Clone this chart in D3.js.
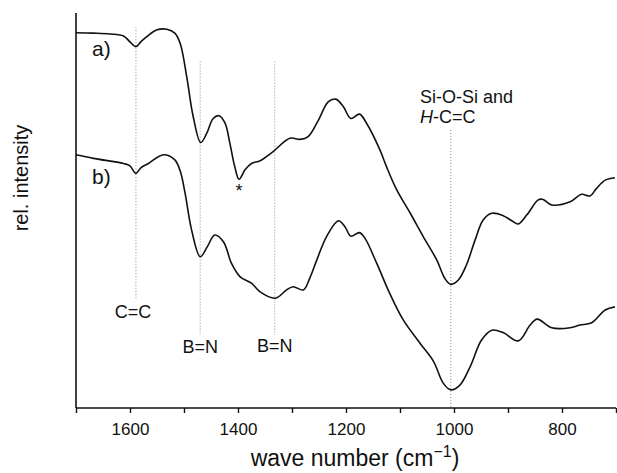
<!DOCTYPE html>
<html>
<head>
<meta charset="utf-8">
<script src="https://cdn.jsdelivr.net/npm/d3@7/dist/d3.min.js"></script>
<style>
  body { margin: 0; background: #fff; }
  svg { display: block; font-family: "Liberation Sans", Arial, Helvetica, sans-serif; }
  .spec { fill: none; stroke: #111; stroke-width: 1.6; }
  .mark { stroke: #8a8a8a; stroke-width: 1; stroke-dasharray: 1 2; }
  .axis-line { stroke: #111; stroke-width: 1.6; }
</style>
</head>
<body>
<svg id="chart" width="617" height="473"></svg>
<script>
// spectrum a)
const waveA = [1700,1668,1637,1612,1600,1589,1580,1569,1551,1532,1517,1507,1495,1483,1469,1458,1446,1435,1424,1415,1406,1398,1387,1375,1359,1335,1304,1285,1270,1251,1233,1219,1205,1191,1175,1162,1137,1125,1106,1081,1057,1032,1017,1006,992,977,961,946,930,909,893,881,865,844,835,819,785,764,748,736,720,702];
const relA  = [0.950,0.949,0.947,0.942,0.927,0.915,0.927,0.940,0.957,0.959,0.949,0.923,0.839,0.738,0.672,0.695,0.733,0.740,0.721,0.670,0.611,0.579,0.603,0.619,0.626,0.649,0.683,0.680,0.687,0.729,0.775,0.782,0.763,0.733,0.744,0.721,0.653,0.611,0.552,0.493,0.434,0.375,0.328,0.313,0.324,0.362,0.425,0.476,0.493,0.487,0.474,0.466,0.489,0.527,0.528,0.514,0.522,0.541,0.537,0.556,0.577,0.583];

// spectrum b)
const waveB = [1700,1668,1612,1600,1589,1580,1566,1538,1517,1507,1498,1486,1470,1457,1443,1427,1412,1396,1375,1359,1331,1310,1298,1279,1267,1254,1236,1214,1202,1191,1175,1165,1143,1119,1094,1063,1038,1020,1006,989,970,949,930,909,881,859,846,819,785,767,745,720,702];
const relB  = [0.641,0.632,0.619,0.613,0.594,0.608,0.619,0.641,0.628,0.600,0.544,0.451,0.383,0.408,0.438,0.421,0.366,0.332,0.316,0.294,0.278,0.299,0.307,0.299,0.329,0.375,0.434,0.474,0.459,0.435,0.444,0.430,0.366,0.290,0.223,0.164,0.118,0.063,0.046,0.058,0.105,0.172,0.197,0.191,0.170,0.210,0.225,0.203,0.203,0.210,0.216,0.248,0.256];

// band assignments
const bandWave  = [1589, 1470, 1332, 1006];
const bandLabel = ['C=C', 'B=N', 'B=N', null];

const tickWaves   = d3.range(1700, 699, -100);
const tickLabeled = [1600, 1400, 1200, 1000, 800];

// ── SCALES ───────────────────────────────────────────────
const svg = d3.select('#chart');
const x = d3.scaleLinear().domain([1700, 700]).range([76, 616]);
const y = d3.scaleLinear().domain([0, 1]).range([408, 13]);

// band marker lines (dotted)
const markTop = [0.964, 0.877, 0.877, 0.704];
const markBot = [0.276, 0.185, 0.185, 0.0];
svg.append('g').selectAll('line')
  .data(bandWave)
  .join('line').attr('class', 'mark')
  .attr('x1', d => x(d)).attr('x2', d => x(d))
  .attr('y1', (d, i) => y(markTop[i])).attr('y2', (d, i) => y(markBot[i]));

// spectra
const line = d3.line()
  .x(d => x(d[0])).y(d => y(d[1]))
  .curve(d3.curveCatmullRom.alpha(0.5));

svg.append('path').attr('class', 'spec')
  .attr('d', line(d3.zip(waveA, relA)));
svg.append('path').attr('class', 'spec')
  .attr('d', line(d3.zip(waveB, relB)));

// ── AXES ─────────────────────────────────────────────────
const xAxis = svg.append('g')
  .attr('transform', `translate(0,${y(0)})`)
  .call(d3.axisBottom(x).tickValues(tickWaves).tickSize(5).tickPadding(10)
    .tickFormat(d => tickLabeled.includes(d) ? d : ''));
xAxis.select('.domain').attr('class', 'axis-line').attr('d', `M${x(1700)},0H${x(700)}`);
xAxis.selectAll('.tick line').attr('stroke', '#111').attr('stroke-width', 1.4);
xAxis.selectAll('text').attr('font-size', 17).attr('fill', '#111')
  .attr('font-family', '"Liberation Sans", Arial, sans-serif');

svg.append('line').attr('class', 'axis-line')
  .attr('x1', x(1700)).attr('x2', x(1700))
  .attr('y1', y(1)).attr('y2', y(0));

// axis titles
const xt = svg.append('text')
  .attr('x', 355).attr('y', 466)
  .attr('text-anchor', 'middle').attr('font-size', 23).attr('fill', '#111');
xt.append('tspan').text('wave number (cm');
xt.append('tspan').attr('font-size', 16).attr('dy', -9).text('−1');
xt.append('tspan').attr('dy', 9).text(')');

svg.append('text')
  .attr('transform', 'translate(28,178) rotate(-90)')
  .attr('text-anchor', 'middle').attr('font-size', 20).attr('fill', '#111')
  .text('rel. intensity');

// ── LABELS ───────────────────────────────────────────────
svg.append('text').attr('x', 92).attr('y', 56)
  .attr('font-size', 21).attr('fill', '#111').text('a)');
svg.append('text').attr('x', 92).attr('y', 184)
  .attr('font-size', 21).attr('fill', '#111').text('b)');

svg.append('text').attr('x', x(1398)).attr('y', 197)
  .attr('text-anchor', 'middle').attr('font-size', 18).attr('fill', '#111').text('*');

const bandLabelY = [318, 353, 352];
bandLabel.forEach((t, i) => {
  if (!t) return;
  svg.append('text')
    .attr('x', x(bandWave[i]) + (i === 0 ? -3 : 0)).attr('y', bandLabelY[i])
    .attr('text-anchor', 'middle').attr('font-size', 18).attr('fill', '#111')
    .text(t);
});

svg.append('text').attr('x', 420).attr('y', 103)
  .attr('font-size', 18).attr('fill', '#111').text('Si-O-Si and');
const hc = svg.append('text').attr('x', 420).attr('y', 123)
  .attr('font-size', 18).attr('fill', '#111');
hc.append('tspan').attr('font-style', 'italic').text('H');
hc.append('tspan').text('-C=C');
</script>
</body>
</html>
